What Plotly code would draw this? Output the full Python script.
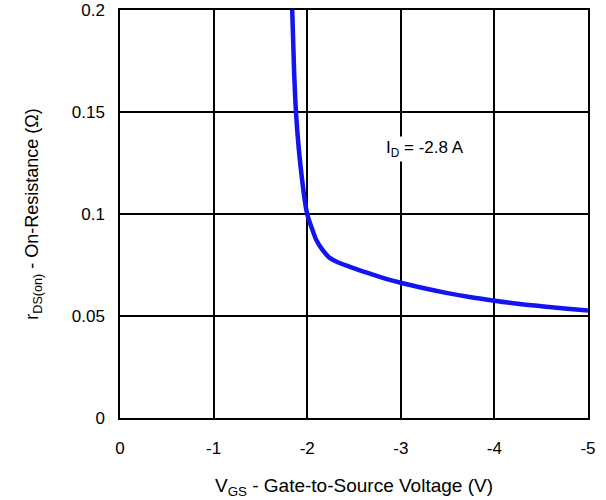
import plotly.graph_objects as go

vgs = [-1.84, -1.86, -1.88, -1.91, -1.94, -1.97, -2.0, -2.05, -2.1, -2.17, -2.24, -2.32, -2.45, -2.6, -2.8, -3.0, -3.25, -3.5, -3.75, -4.0, -4.25, -4.5, -4.75, -5.0]
rds = [0.200, 0.170, 0.150, 0.132, 0.119, 0.108, 0.100, 0.093, 0.087, 0.082, 0.0785, 0.0765, 0.0742, 0.0718, 0.0688, 0.0663, 0.0636, 0.0612, 0.0592, 0.0575, 0.0560, 0.0548, 0.0537, 0.0527]

x_ticks = [0, -1, -2, -3, -4, -5]
y_ticks = [0, 0.05, 0.1, 0.15, 0.2]
y_tick_text = ["0", "0.05", "0.1", "0.15", "0.2"]

FONT = "Liberation Sans, Arial"

fig = go.Figure()
fig.add_trace(go.Scatter(x=vgs, y=rds, mode="lines",
                         line=dict(color="#1414f0", width=4.5, shape="spline"),
                         showlegend=False))

fig.add_annotation(x=-3.26, y=0.132, xref="x", yref="y",
                   text="I<sub>D</sub> = -2.8 A", showarrow=False,
                   font=dict(size=17, color="black", family=FONT),
                   bgcolor="white")

axis_common = dict(showline=True, linecolor="black", linewidth=1.5, mirror=True,
                   showgrid=True, gridcolor="black", gridwidth=1.5, zeroline=False,
                   automargin=False, ticks="",
                   tickfont=dict(size=17, color="black", family=FONT))

fig.update_xaxes(range=[0, -5], tickvals=x_ticks, ticktext=[str(v) for v in x_ticks],
                 title=dict(text="V<sub>GS</sub> - Gate-to-Source Voltage (V)", standoff=22,
                            font=dict(size=19, color="black", family=FONT)),
                 ticklabelstandoff=14, **axis_common)
fig.update_yaxes(range=[0, 0.2], tickvals=y_ticks, ticktext=y_tick_text,
                 title=dict(text="r<sub>DS(on)</sub> - On-Resistance (Ω)", standoff=28,
                            font=dict(size=18, color="black", family=FONT)),
                 ticklabelstandoff=10, **axis_common)

fig.update_layout(width=606, height=500, plot_bgcolor="white", paper_bgcolor="white",
                  margin=dict(l=120, r=18, t=10, b=82))

# remove the default page margin so the figure sits at the window's top-left corner
fig.write_html("out.html", config={"displayModeBar": False},
               post_script="document.body.style.margin='0';document.body.style.overflow='hidden';")
